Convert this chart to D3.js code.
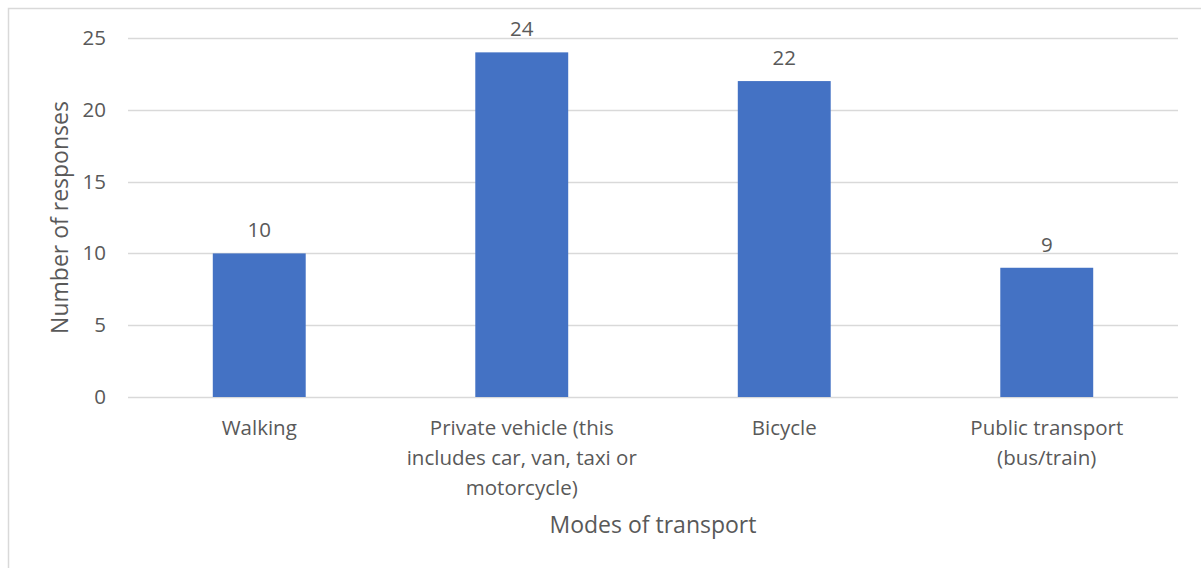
<!DOCTYPE html>
<html>
<head>
<meta charset="utf-8">
<script src="https://cdn.jsdelivr.net/npm/d3@7"></script>
<style>
  body { margin: 0; background: #fff; }
  svg text { font-family: "Open Sans", sans-serif; fill: #595959; }
</style>
</head>
<body>
<div id="chart"></div>
<script>
// Chart data
const categories = [
    ["Walking"],
    ["Private vehicle (this", "includes car, van, taxi or", "motorcycle)"],
    ["Bicycle"],
    ["Public transport", "(bus/train)"]
];
const values = [10, 24, 22, 9];
const yTicks = [0, 5, 10, 15, 20, 25];

const W = 1201, H = 568;
const margin = { top: 38, right: 23, bottom: 171, left: 128 };
const width = W - margin.left - margin.right;
const height = H - margin.top - margin.bottom;

const root = d3.select("#chart").append("svg")
    .attr("width", W)
    .attr("height", H);

// outer chart border
root.append("rect")
    .attr("x", 8.5).attr("y", 8.5)
    .attr("width", W + 10).attr("height", H + 10)
    .attr("fill", "none")
    .attr("stroke", "#d9d9d9")
    .attr("stroke-width", 1.5);

const svg = root.append("g")
    .attr("transform", "translate(" + margin.left + "," + margin.top + ")");

const idx = d3.range(categories.length);

const x = d3.scaleBand()
    .domain(idx)
    .range([0, width])
    .paddingInner(0.646)
    .paddingOuter(0.323);

const y = d3.scaleLinear()
    .domain([0, 25])
    .range([height, 0]);

// gridlines
svg.append("g")
    .selectAll("line")
    .data(yTicks)
    .enter().append("line")
    .attr("x1", 0).attr("x2", width)
    .attr("y1", d => Math.round(y(d)) + 0.5)
    .attr("y2", d => Math.round(y(d)) + 0.5)
    .attr("stroke", "#d9d9d9")
    .attr("stroke-width", 1.5);

// y axis labels
const yAxis = svg.append("g")
    .call(d3.axisLeft(y).tickValues(yTicks).tickSize(0).tickPadding(22));
yAxis.select(".domain").remove();
yAxis.selectAll("text")
    .style("font-size", "20.5px")
    .attr("fill", "#595959");

// bars
svg.selectAll(".bar")
    .data(values)
    .enter().append("rect")
    .attr("class", "bar")
    .attr("x", (d, i) => x(i))
    .attr("y", d => y(d))
    .attr("width", x.bandwidth())
    .attr("height", d => y(0) - y(d))
    .attr("fill", "#4472c4");

// value labels
svg.selectAll(".val")
    .data(values)
    .enter().append("text")
    .attr("class", "val")
    .attr("x", (d, i) => x(i) + x.bandwidth() / 2)
    .attr("y", d => y(d) - 16)
    .attr("text-anchor", "middle")
    .style("font-size", "20.5px")
    .text(d => d);

// category labels (multi-line)
const cat = svg.selectAll(".cat")
    .data(categories)
    .enter().append("text")
    .attr("class", "cat")
    .attr("text-anchor", "middle")
    .attr("transform", (d, i) => "translate(" + (x(i) + x.bandwidth() / 2) + "," + (height + 38) + ")")
    .style("font-size", "20.5px");
cat.selectAll("tspan")
    .data(d => d)
    .enter().append("tspan")
    .attr("x", 0)
    .attr("y", (d, i) => i * 30)
    .text(d => d);

// x axis title
svg.append("text")
    .attr("x", width / 2)
    .attr("y", height + 136)
    .attr("text-anchor", "middle")
    .style("font-size", "23px")
    .text("Modes of transport");

// y axis title
svg.append("text")
    .attr("transform", "rotate(-90)")
    .attr("x", -height / 2)
    .attr("y", -60)
    .attr("text-anchor", "middle")
    .style("font-size", "23px")
    .text("Number of responses");
</script>
</body>
</html>
